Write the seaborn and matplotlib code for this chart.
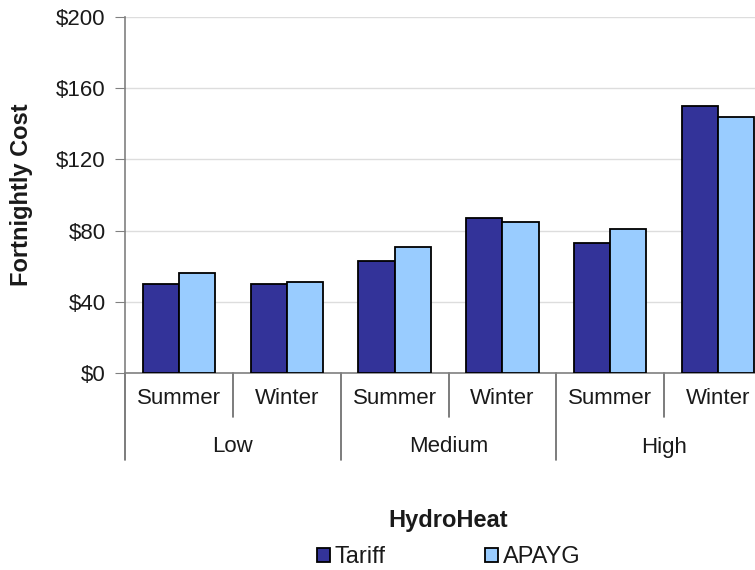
import numpy as np
import pandas as pd
import seaborn as sns
import matplotlib.pyplot as plt
import matplotlib.transforms as mtrans

levels = ['Low', 'Low', 'Medium', 'Medium', 'High', 'High']
seasons = ['Summer', 'Winter', 'Summer', 'Winter', 'Summer', 'Winter']
tariff = [50, 50, 63, 87, 73, 150]
apayg = [56, 51, 71, 85, 81, 144]
yticks = [0, 40, 80, 120, 160, 200]

cats = [l + ' ' + s for l, s in zip(levels, seasons)]
df = pd.DataFrame({'cat': cats * 2,
                   'cost': tariff + apayg,
                   'plan': ['Tariff'] * 6 + ['APAYG'] * 6})

sns.set_style('white')
plt.rcParams['font.family'] = ['Liberation Sans', 'DejaVu Sans']
plt.rcParams['text.color'] = '#1a1a1a'
plt.rcParams['xtick.color'] = '#1a1a1a'
plt.rcParams['ytick.color'] = '#1a1a1a'
fs = 16

fig = plt.figure(figsize=(7.55, 5.7), dpi=100)
ax = fig.add_axes([125/755, 197/570, 647/755, 356/570])

sns.barplot(data=df, x='cat', y='cost', hue='plan', order=cats,
            hue_order=['Tariff', 'APAYG'], palette=['#333399', '#99ccff'],
            width=0.67, gap=0, edgecolor='black', linewidth=1.3,
            saturation=1, ax=ax, zorder=3)

ax.set_ylim(0, 200)
ax.set_xlim(-0.5, 5.5)
ax.set_yticks(yticks)
ax.set_yticklabels(['$' + str(v) for v in yticks], fontsize=fs)
ax.yaxis.grid(True, color='#dddddd', lw=1, zorder=0)
ax.tick_params(axis='y', length=7, color='#808080', direction='out', left=True, pad=7)
for s in ['top', 'right']:
    ax.spines[s].set_visible(False)
for s in ['left', 'bottom']:
    ax.spines[s].set_color('#808080')
    ax.spines[s].set_linewidth(1.2)

ax.set_xticks(range(6))
ax.set_xticklabels(seasons, fontsize=fs)
ax.tick_params(axis='x', length=0, pad=11)
ax.set_xlabel('')
ax.set_ylabel('')

tr = mtrans.blended_transform_factory(ax.transData, ax.transAxes)
for x in [0.5, 2.5, 4.5]:
    ax.plot([x, x], [0, -44/356], color='#666666', lw=1.2, transform=tr, clip_on=False)
for x in [-0.5, 1.5, 3.5, 5.5]:
    ax.plot([x, x], [0, -87/356], color='#666666', lw=1.2, transform=tr, clip_on=False)
for i, lv in enumerate(['Low', 'Medium', 'High']):
    ax.text(2*i + 0.5, -74/356, lv, transform=tr, ha='center', va='center', fontsize=fs)

ax.text(0.5, -147/356, 'HydroHeat', transform=ax.transAxes, ha='center', va='center',
        fontsize=17, fontweight='bold')
fig.text(22/755, 1 - 195/570, 'Fortnightly Cost', rotation=90, ha='center', va='center',
         fontsize=17, fontweight='bold')

h, l = ax.get_legend_handles_labels()
ax.legend(h, l, loc='center', bbox_to_anchor=(0.5, -184/356), ncol=2, frameon=False,
          fontsize=17, handlelength=0.55, handleheight=0.55, handletextpad=0.2,
          columnspacing=4.2)

fig.savefig('out.png', dpi=100)
